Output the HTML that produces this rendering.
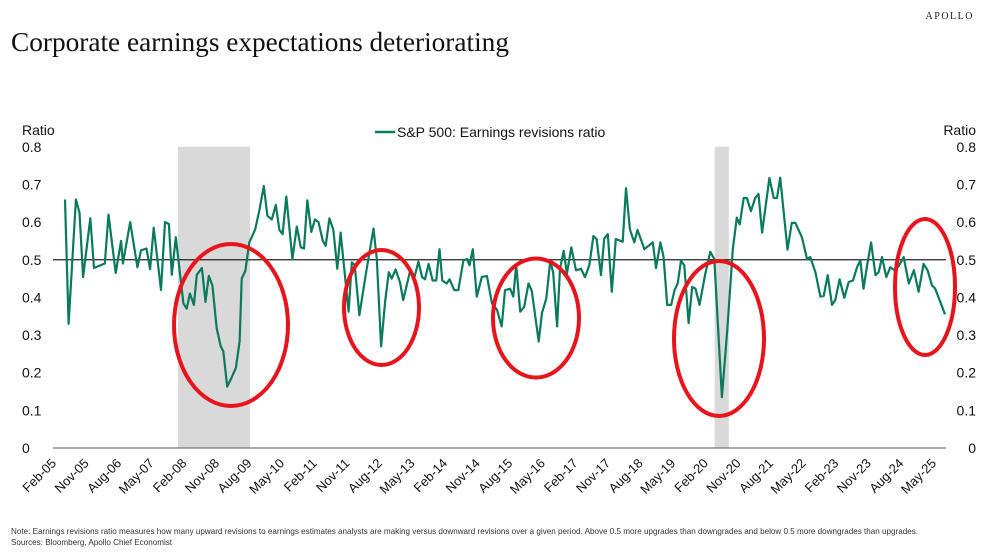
<!DOCTYPE html>
<html><head><meta charset="utf-8">
<style>
body{margin:0;background:#fff;}
svg{display:block;font-family:"Liberation Sans",sans-serif;}
</style></head>
<body>
<svg id="chart" width="990" height="552" viewBox="0 0 990 552" xmlns="http://www.w3.org/2000/svg">
<text x="974" y="19" text-anchor="end" font-family="Liberation Serif,serif" font-size="10" letter-spacing="1.5" fill="#222">APOLLO</text>
<text x="11" y="51" font-family="Liberation Serif,serif" font-size="27.3" fill="#111">Corporate earnings expectations deteriorating</text>
<g id="shading"></g>
<g id="grid"></g>
<g id="series"></g>
<g id="circles"></g>
<g>
<line x1="375" y1="132" x2="395" y2="132" stroke="#0a7a5c" stroke-width="2.5"/>
<text x="397" y="137" font-size="14" fill="#111">S&amp;P 500: Earnings revisions ratio</text>
</g>
<text x="22" y="135" font-size="14" fill="#111">Ratio</text>
<text x="976" y="135" text-anchor="end" font-size="14" fill="#111">Ratio</text>
<text x="11" y="534" font-size="8.1" fill="#333">Note: Earnings revisions ratio measures how many upward revisions to earnings estimates analysts are making versus downward revisions over a given period. Above 0.5 more upgrades than downgrades and below 0.5 more downgrades than upgrades.</text>
<text x="11" y="545" font-size="8.1" fill="#333">Sources: Bloomberg, Apollo Chief Economist</text>
</svg>
<script>
// months since Feb-2005
const months=[0,1,3,4,5,7,8,11,12,14,15.5,16,18,20,21,22.5,23.5,24.5,26.5,27.6,28.7,29.5,30.6,32.7,33.6,34.5,35.6,36.4,37.8,38.8,39.7,40.7,41.9,43,43.7,44.8,46,47.2,48.2,48.8,49.8,50.9,52.5,53.7,54.9,55.9,57.1,58.2,59.2,60.1,61.1,62.8,64,65.1,66,66.9,68,69,70,71.2,72,73,74.1,75.2,76.1,78.3,79.2,80,81.3,83.1,85.2,86.1,87.3,88.4,89.4,90.2,91.3,92.5,93.4,95.3,96.4,97.6,98.6,99.4,100.4,101.5,102.5,103.4,104.2,105.4,106.2,107.5,108.6,110,111,111.7,112.6,113.7,115.1,116.5,117.9,119.3,120.6,121.5,122.9,123.8,124.6,125.7,126.8,128,128.9,130.8,131.7,132.9,134,134.8,135.9,136.7,137.7,138.6,139.8,141.1,142.5,143.6,144.8,145.9,146.8,148,148.9,149.9,151,152.1,154,154.9,156,157.2,158.1,160,162.3,163.2,164.4,165.3,166.3,167.4,168.3,169.2,170.1,171,172.2,173.2,174.1,175.2,176.8,178.2,179.3,181.4,182.9,184.4,185.5,186.3,187.4,188.3,189.4,190.6,191.5,192.5,194.5,195.7,196.6,197.5,199.5,200.7,201.7,203.5,204.9,205.8,207.2,208.6,209.5,210.6,211.8,212.7,213.9,215.2,216.4,217.6,218.7,219.6,220.5,221.5,222.6,223.8,224.7,225.6,226.8,227.9,229,230.2,231.6,233,234.4,235.7,237.1,238.2,239.4,240.3,243];
const ratioValues=[0.66,0.33,0.66,0.625,0.454,0.61,0.478,0.49,0.62,0.465,0.55,0.49,0.60,0.48,0.525,0.53,0.475,0.585,0.42,0.60,0.595,0.46,0.56,0.384,0.37,0.41,0.38,0.46,0.478,0.388,0.457,0.432,0.318,0.27,0.257,0.163,0.187,0.213,0.283,0.45,0.47,0.546,0.58,0.633,0.696,0.617,0.607,0.646,0.579,0.568,0.668,0.502,0.588,0.533,0.53,0.658,0.574,0.607,0.60,0.55,0.537,0.61,0.58,0.476,0.572,0.362,0.493,0.486,0.353,0.463,0.583,0.502,0.27,0.388,0.467,0.45,0.474,0.44,0.393,0.47,0.45,0.495,0.454,0.448,0.489,0.445,0.445,0.528,0.445,0.437,0.448,0.419,0.419,0.498,0.502,0.485,0.528,0.402,0.454,0.457,0.384,0.367,0.323,0.419,0.423,0.402,0.486,0.362,0.375,0.437,0.417,0.283,0.358,0.397,0.498,0.465,0.323,0.476,0.524,0.463,0.533,0.472,0.476,0.454,0.486,0.563,0.555,0.459,0.556,0.568,0.415,0.555,0.548,0.69,0.581,0.546,0.579,0.528,0.546,0.478,0.546,0.507,0.38,0.38,0.419,0.437,0.498,0.485,0.332,0.428,0.423,0.38,0.463,0.521,0.502,0.135,0.318,0.528,0.612,0.594,0.664,0.664,0.629,0.664,0.675,0.572,0.717,0.664,0.664,0.718,0.527,0.598,0.598,0.559,0.502,0.507,0.467,0.402,0.404,0.459,0.38,0.393,0.448,0.399,0.441,0.445,0.48,0.498,0.423,0.485,0.546,0.459,0.467,0.507,0.454,0.48,0.472,0.483,0.507,0.437,0.472,0.415,0.489,0.472,0.432,0.423,0.355];
const yTicks=[0,0.1,0.2,0.3,0.4,0.5,0.6,0.7,0.8];
const xTickLabels=["Feb-05","Nov-05","Aug-06","May-07","Feb-08","Nov-08","Aug-09","May-10","Feb-11","Nov-11","Aug-12","May-13","Feb-14","Nov-14","Aug-15","May-16","Feb-17","Nov-17","Aug-18","May-19","Feb-20","Nov-20","Aug-21","May-22","Feb-23","Nov-23","Aug-24","May-25"];
const xTickMonths=[0,9,18,27,36,45,54,63,72,81,90,99,108,117,126,135,144,153,162,171,180,189,198,207,216,225,234,243];
const recessionStart=[31.2,179.4];
const recessionEnd=[51.1,183.3];
const referenceLevel=0.5;

const NS="http://www.w3.org/2000/svg";
const X=m=>65+m*(880/243);
const Y=v=>448-v*376.5;
function mk(tag,attrs,parent){const e=document.createElementNS(NS,tag);for(const k in attrs)e.setAttribute(k,attrs[k]);parent.appendChild(e);return e;}

const shading=document.getElementById('shading');
recessionStart.forEach((s,i)=>{
  const r=mk('rect',{x:X(s),y:Y(0.8),width:X(recessionEnd[i])-X(s),height:Y(0)-Y(0.8),fill:'#d9d9d9'},shading);
  
  
});

const grid=document.getElementById('grid');
const base=mk('line',{x1:53,x2:946,y1:Y(0),y2:Y(0),stroke:'#555','stroke-width':1},grid);


yTicks.forEach(v=>{
  const l=mk('text',{x:22,y:Y(v)+5,'font-size':14,fill:'#111'},grid);l.textContent=v===0?'0':v.toFixed(1);
  
  
  const r=mk('text',{x:976,y:Y(v)+5,'font-size':14,fill:'#111','text-anchor':'end'},grid);r.textContent=v===0?'0':v.toFixed(1);
  
  
});
xTickLabels.forEach((t,i)=>{
  const x=X(xTickMonths[i])-8, y=464;
  const e=mk('text',{x:x,y:y,'font-size':13,fill:'#111','text-anchor':'end',transform:`rotate(-45 ${x} ${y})`},grid);
  e.textContent=t;
  
  
});

const series=document.getElementById('series');
const refl=mk('line',{x1:53,x2:946,y1:Y(referenceLevel),y2:Y(referenceLevel),stroke:'#222','stroke-width':1.2},series);


const d=months.map((m,i)=>(i?'L':'M')+X(m).toFixed(1)+' '+Y(ratioValues[i]).toFixed(1)).join(' ');
const p=mk('path',{d:d,fill:'none',stroke:'#0a7a5c','stroke-width':2.2,'stroke-linejoin':'round'},series);



const circles=document.getElementById('circles');
[[231,325,57,81],[381.5,307.5,37.5,57.5],[536,318,43,59.5],[719,338.5,45,77.5],[925,287,30,68]].forEach(c=>{
  const e=mk('ellipse',{cx:c[0],cy:c[1],rx:c[2],ry:c[3],fill:'none',stroke:'#e8141c','stroke-width':4},circles);
  
  
});
</script>
</body></html>
